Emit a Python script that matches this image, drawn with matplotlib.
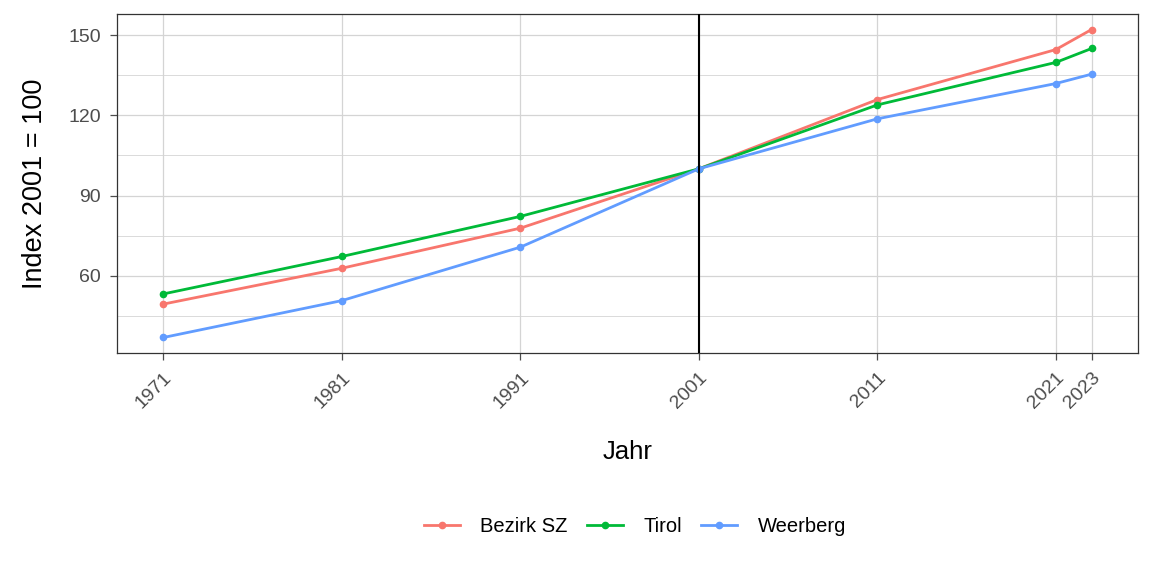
import matplotlib
matplotlib.use('Agg')
import matplotlib.pyplot as plt

plt.rcParams['font.family'] = ['Liberation Sans', 'DejaVu Sans']

jahre = [1971, 1981, 1991, 2001, 2011, 2021, 2023]
bezirk_sz = [49.4, 62.8, 77.8, 100.0, 125.9, 144.6, 152.1]
tirol = [53.2, 67.2, 82.2, 100.0, 123.9, 139.8, 145.0]
weerberg = [36.9, 50.7, 70.7, 100.0, 118.7, 131.9, 135.4]

serien = [('Bezirk SZ', bezirk_sz, '#F8766D'),
          ('Tirol', tirol, '#00BA38'),
          ('Weerberg', weerberg, '#619CFF')]

fig = plt.figure(figsize=(11.52, 5.76), dpi=100)
ax = fig.add_axes([117 / 1152, 1 - 353 / 576, (1138 - 117) / 1152, (353 - 14) / 576])

for name, werte, farbe in serien:
    ax.plot(jahre, werte, color=farbe, lw=2, marker='o', ms=4.5, label=name, zorder=3)

ax.axvline(2001, color='black', lw=1.5, zorder=4)

ax.set_xlim(1968.4, 2025.6)
ax.set_ylim(31.1, 157.9)
ax.set_xticks(jahre)
ax.set_yticks([60, 90, 120, 150])
ax.set_yticks([45, 75, 105, 135], minor=True)
ax.grid(True, which='major', color='#d4d4d4', lw=0.9, zorder=0)
ax.grid(True, which='minor', axis='y', color='#d4d4d4', lw=0.6, zorder=0)
ax.set_axisbelow(True)
for s in ax.spines.values():
    s.set_color('#333333')
    s.set_linewidth(0.9)

ax.tick_params(axis='both', which='major', labelsize=14, colors='#4d4d4d',
               length=5, width=0.9, pad=6.5)
ax.tick_params(axis='y', which='minor', length=0)
plt.setp(ax.get_xticklabels(), rotation=45, ha='right', rotation_mode='anchor')
for lab in ax.get_yticklabels() + ax.get_xticklabels():
    lab.set_color('#4d4d4d')

ax.set_xlabel('Jahr', fontsize=18.5, labelpad=20)
ax.set_ylabel('Index 2001 = 100', fontsize=19.5, labelpad=15)

fig.legend(loc='center', bbox_to_anchor=(635 / 1152, 1 - 527 / 576), ncol=3, frameon=False,
           fontsize=14.5, handlelength=1.8, columnspacing=0.95, handletextpad=1.0)

fig.savefig('out.png', dpi=100)
